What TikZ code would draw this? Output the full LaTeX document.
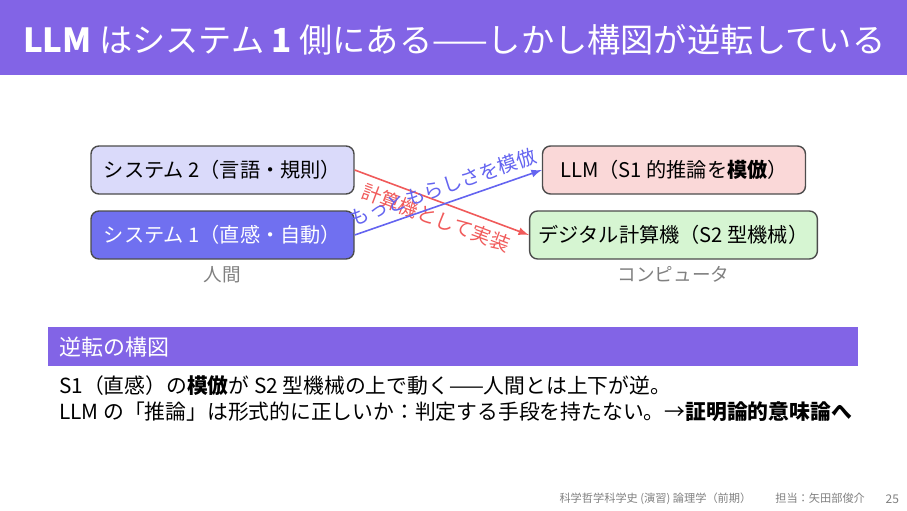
\documentclass[tikz,border=0pt]{standalone}
\usepackage{fontspec}
\setmainfont{Noto Sans CJK JP}
\usepackage{tikz}
\usetikzlibrary{arrows.meta,positioning}
\definecolor{slidebar}{RGB}{130,100,230}
\definecolor{sysone}{RGB}{112,112,240}
\definecolor{systwo}{RGB}{218,218,250}
\definecolor{llmpink}{RGB}{250,216,216}
\definecolor{digigreen}{RGB}{214,245,210}
\definecolor{darkred}{RGB}{240,90,90}
\definecolor{darkblue}{RGB}{100,100,240}
\begin{document}
\begin{tikzpicture}[x=0.5pt,y=-0.5pt,
    box/.style={draw=black!70,line width=0.7pt,rounded corners=4pt,minimum width=131.5pt,
      minimum height=24pt,inner xsep=4.5pt,font=\fontsize{10.1}{11}\selectfont},
    side/.style={text=gray,font=\fontsize{9.3}{11}\selectfont},
    body/.style={anchor=west,font=\fontsize{10.4}{12}\selectfont}]
          \useasboundingbox (0,0) rectangle (907,510);
          \fill[color=slidebar] (0,0) rectangle (907,75);
          \node[anchor=west,text=white,font=\fontsize{16.6}{19}\selectfont] (title) at (16,40)
            {\textbf{LLM} はシステム \textbf{1} 側にある——しかし構図が逆転している};
          \node[box,fill=systwo] (sys2) at (222.5,170) {システム 2（言語・規則）};
          \node[box,fill=sysone,text=white] (sys1) at (222.5,235) {システム 1（直感・自動）};
          \node[box,fill=llmpink] (llm) at (674,170) {LLM（S1 的推論を\textbf{模倣}）};
          \node[box,fill=digigreen] (digital) at (673.5,235) {デジタル計算機（S2 型機械）};
          \node[side,below=0pt of sys1] (human) {人間};
          \node[side,below=0pt of digital] (computer) {コンピュータ};
          \draw[-latex,line width=0.8pt,color=darkred] (sys2.east) -- (digital.west)
            node[midway,below,sloped,font=\fontsize{9.8}{11}\selectfont] {計算機として実装};
          \draw[-latex,line width=0.8pt,color=darkblue] (sys1.east) -- (llm.west)
            node[midway,above,sloped,font=\fontsize{9.8}{11}\selectfont] {もっともらしさを模倣};
          \fill[color=slidebar] (48,327) rectangle (858,366);
          \node[anchor=west,text=white,font=\fontsize{11}{13}\selectfont] (blockhead) at (52,347) {逆転の構図};
          \node[body] (line1) at (52,386) {S1（直感）の\textbf{模倣}が S2 型機械の上で動く——人間とは上下が逆。};
          \node[body] (line2) at (52,412) {LLM の「推論」は形式的に正しいか：判定する手段を持たない。→\textbf{証明論的意味論へ}};
          \node[anchor=east,text=gray,font=\fontsize{5.6}{7}\selectfont] (footer) at (872,499)
            {科学哲学科学史 (演習) 論理学（前期）\hspace{12pt}担当：矢田部俊介};
          \node[anchor=east,text=gray,font=\fontsize{6}{7}\selectfont] (page) at (906,499) {25};
        \end{tikzpicture}
\end{document}
